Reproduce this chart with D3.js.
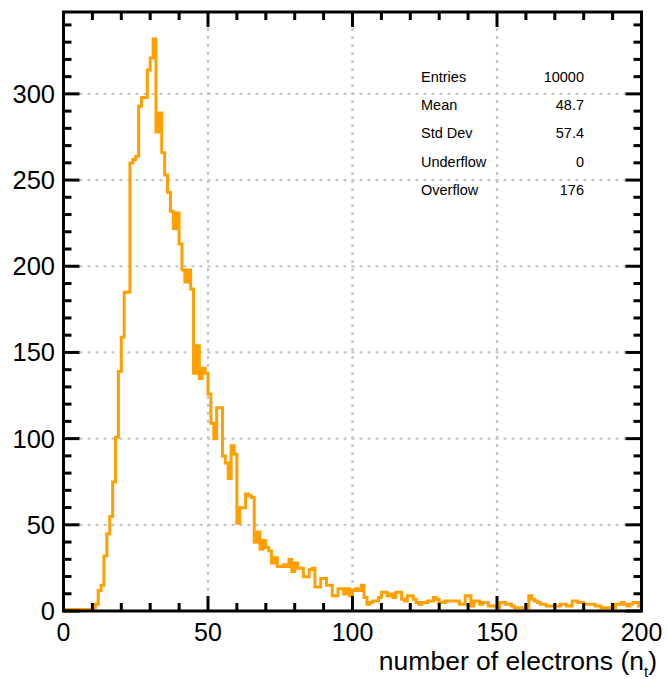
<!DOCTYPE html>
<html><head><meta charset="utf-8">
<script src="https://cdn.jsdelivr.net/npm/d3@7"></script>
<style>body{margin:0;background:#fff}svg{display:block}text{font-family:"Liberation Sans",Arial,sans-serif}</style>
</head><body>
<svg id="c" width="668" height="679"></svg>
<script>
// histogram: 200 bins of width 1 from 0 to 200
const binLow = 0, binWidth = 1;
const counts = [
 0,0,0,0,0,0,0,0,0,0,
 1,3,11,14,31,44,54,74,100,138,
 158,184,184,259,261,263,292,297,297,313,
 320,331,277,288,265,252,242,231,221,230,
 212,197,190,197,186,137,153,134,140,137,
 125,108,99,117,117,89,85,76,95,90,
 50,59,59,67,66,65,39,45,35,40,
 36,34,27,30,25,25,26,25,29,22,
 27,24,24,19,19,23,24,13,13,18,
 18,14,14,8,8,12,12,9,12,8,
 11,12,11,14,7,3,4,5,5,7,
 10,10,8,9,7,10,10,6,5,8,
 8,6,4,3,4,4,5,5,7,6,
 4,4,5,5,5,5,5,3,3,8,
 8,2,5,5,3,4,4,2,2,2,
 1,4,4,3,3,2,1,1,1,1,
 1,8,6,5,4,3,3,2,2,2,
 2,2,3,3,2,2,5,5,4,4,
 3,3,3,3,2,2,1,1,1,1,
 1,3,3,4,3,2,3,4,4,2
];
const xTicks = [0,50,100,150,200];
const yTicks = [0,50,100,150,200,250,300];
const statLabels = ["Entries","Mean","Std Dev","Underflow","Overflow"];
const statValues = ["10000","48.7","57.4","0","176"];
const xTitle = "number of electrons (n";
const xTitleSub = "t";

const svg = d3.select("#c");
const L=63.5, R=641.5, T=12, B=611;
const x = d3.scaleLinear().domain([0,200]).range([L,R]);
const y = d3.scaleLinear().domain([0,347.5]).range([B,T]);

// grid
const grid = svg.append("g").attr("stroke","#c4c4c4").attr("stroke-width",2.2).attr("stroke-dasharray","3,5");
[50,100,150].forEach(v=>grid.append("line").attr("x1",x(v)).attr("x2",x(v)).attr("y1",T).attr("y2",B));
yTicks.filter(v=>v>0).forEach(v=>grid.append("line").attr("x1",L).attr("x2",R).attr("y1",y(v)).attr("y2",y(v)));

// histogram outline
const pts=[];
counts.forEach((c,i)=>{const a=binLow+i*binWidth; pts.push([a,c]); pts.push([a+binWidth,c]);});
svg.append("path").datum(pts)
  .attr("d", d3.line().x(d=>x(d[0])).y(d=>y(d[1])-1.5))
  .attr("fill","none").attr("stroke","#ffa000").attr("stroke-width",3).attr("stroke-linejoin","miter");

// axes ticks (inside, all four sides)
const ax = svg.append("g").attr("stroke","#000").attr("stroke-width",3);
d3.range(0,201,10).forEach(v=>{
  const len = v%50===0?15:8;
  ax.append("line").attr("x1",x(v)).attr("x2",x(v)).attr("y1",B).attr("y2",B-len);
  ax.append("line").attr("x1",x(v)).attr("x2",x(v)).attr("y1",T).attr("y2",T+len);
});
d3.range(0,341,10).forEach(v=>{
  const len = v%50===0?16:8;
  ax.append("line").attr("y1",y(v)).attr("y2",y(v)).attr("x1",L).attr("x2",L+len);
  ax.append("line").attr("y1",y(v)).attr("y2",y(v)).attr("x1",R).attr("x2",R-len);
});
svg.append("rect").attr("x",L).attr("y",T).attr("width",R-L).attr("height",B-T)
  .attr("fill","none").attr("stroke","#000").attr("stroke-width",3);

// tick labels
svg.append("g").selectAll("text").data(yTicks).join("text")
  .attr("x",55).attr("y",d=>y(d)+9).attr("text-anchor","end").attr("font-size",25.5).text(d=>d);
svg.append("g").selectAll("text").data(xTicks).join("text")
  .attr("x",d=>x(d)).attr("y",640.5).attr("text-anchor","middle").attr("font-size",25).text(d=>d);

// x title
const t = svg.append("text").attr("x",657).attr("y",670).attr("text-anchor","end").attr("font-size",26.5);
t.append("tspan").text(xTitle);
t.append("tspan").attr("font-size",15).attr("dy",7).text(xTitleSub);
t.append("tspan").attr("dy",-7).text(")");

// stats
const st = svg.append("g").attr("font-size",14.5);
statLabels.forEach((s,i)=>{
  st.append("text").attr("x",421).attr("y",82+i*28.2).text(s);
  st.append("text").attr("x",584).attr("y",82+i*28.2).attr("text-anchor","end").text(statValues[i]);
});
</script>
</body></html>
